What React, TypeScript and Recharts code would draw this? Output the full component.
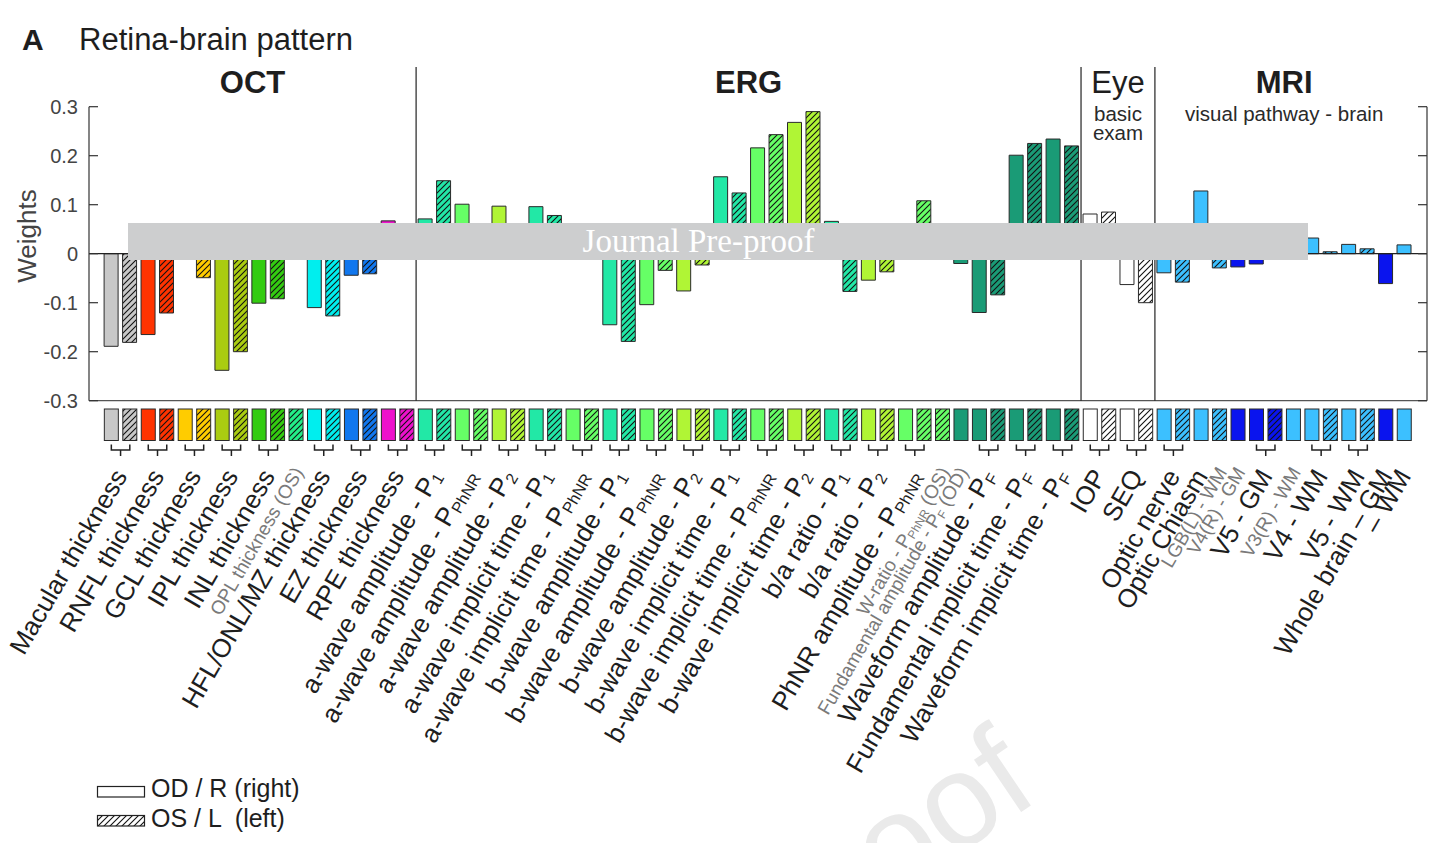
import React from 'react';
import { Bar, BarChart, Cell, ReferenceLine, XAxis, YAxis } from 'recharts';

// one entry per bar, left to right (OD / R first, OS / L second within a pair)
const categories = [
  'Macular OD', 'Macular OS', 'RNFL OD', 'RNFL OS', 'GCL OD', 'GCL OS', 'IPL OD', 'IPL OS',
  'INL OD', 'INL OS', 'OPL OS', 'HFL/ONL/MZ OD', 'HFL/ONL/MZ OS', 'EZ OD', 'EZ OS', 'RPE OD', 'RPE OS',
  'a amp P1 OD', 'a amp P1 OS', 'a amp PhNR OD', 'a amp PhNR OS', 'a amp P2 OD', 'a amp P2 OS',
  'a IT P1 OD', 'a IT P1 OS', 'a IT PhNR OD', 'a IT PhNR OS',
  'b amp P1 OD', 'b amp P1 OS', 'b amp PhNR OD', 'b amp PhNR OS', 'b amp P2 OD', 'b amp P2 OS',
  'b IT P1 OD', 'b IT P1 OS', 'b IT PhNR OD', 'b IT PhNR OS', 'b IT P2 OD', 'b IT P2 OS',
  'b/a P1 OD', 'b/a P1 OS', 'b/a P2 OD', 'b/a P2 OS', 'PhNR amp OD', 'PhNR amp OS',
  'W-ratio OS', 'Fund amp OD', 'Wave amp OD', 'Wave amp OS', 'Fund IT OD', 'Fund IT OS', 'Wave IT OD', 'Wave IT OS',
  'IOP OD', 'IOP OS', 'SEQ OD', 'SEQ OS',
  'Optic nerve R', 'Optic nerve L', 'Optic chiasm', 'LGB L WM', 'V4 R GM', 'V5 R GM', 'V5 L GM',
  'V3 R WM', 'V4 R WM', 'V4 L WM', 'V5 R WM', 'V5 L WM', 'Whole brain GM', 'Whole brain WM',
];

const weights = [
  -0.189, -0.181, -0.165, -0.121, 0.02, -0.049, -0.238, -0.2,
  -0.101, -0.092, 0.015, -0.11, -0.127, -0.044, -0.041, 0.067, 0.035,
  0.071, 0.149, 0.101, 0.04, 0.097, 0.05,
  0.096, 0.078, 0.03, 0.045,
  -0.145, -0.179, -0.104, -0.034, -0.076, -0.023,
  0.157, 0.124, 0.216, 0.243, 0.268, 0.29,
  0.066, -0.077, -0.054, -0.037, 0.02, 0.108,
  0.03, -0.02, -0.12, -0.084, 0.201, 0.225, 0.234, 0.22,
  0.081, 0.085, -0.063, -0.1,
  -0.039, -0.058, 0.128, -0.029, -0.027, -0.021, 0.01,
  0.005, 0.032, 0.004, 0.019, 0.01, -0.061, 0.018,
];

// R = right eye / right side (plain), L = left (hatched)
const sides = (
  'RLRLRLRLRLLRLRLRL' +
  'RLRLRLRLRLRLRLRLRLRLRLRLRLRLLRRLRLRL' +
  'RLRL' +
  'RLRLRRLRRLRLRR'
).split('');

const tones = [
  'gray', 'gray', 'red', 'red', 'yellow', 'yellow', 'olive', 'olive',
  'green', 'green', 'spring', 'cyan', 'cyan', 'azure', 'azure', 'magenta', 'magenta',
  'aqua', 'aqua', 'lime', 'lime', 'chartreuse', 'chartreuse',
  'aqua', 'aqua', 'lime', 'lime',
  'aqua', 'aqua', 'lime', 'lime', 'chartreuse', 'chartreuse',
  'aqua', 'aqua', 'lime', 'lime', 'chartreuse', 'chartreuse',
  'aqua', 'aqua', 'chartreuse', 'chartreuse', 'lime', 'lime',
  'lime', 'teal', 'teal', 'teal', 'teal', 'teal', 'teal', 'teal',
  'white', 'white', 'white', 'white',
  'sky', 'sky', 'sky', 'sky', 'blue', 'blue', 'blue',
  'sky', 'sky', 'sky', 'sky', 'sky', 'blue', 'sky',
];

const tickLabels = [
  { at: 'Macular OD', span: 2, text: 'Macular thickness' },
  { at: 'RNFL OD', span: 2, text: 'RNFL thickness' },
  { at: 'GCL OD', span: 2, text: 'GCL thickness' },
  { at: 'IPL OD', span: 2, text: 'IPL thickness' },
  { at: 'INL OD', span: 2, text: 'INL thickness' },
  { at: 'OPL OS', span: 1, text: 'OPL thickness (OS)', minor: true },
  { at: 'HFL/ONL/MZ OD', span: 2, text: 'HFL/ONL/MZ thickness' },
  { at: 'EZ OD', span: 2, text: 'EZ thickness' },
  { at: 'RPE OD', span: 2, text: 'RPE thickness' },
  { at: 'a amp P1 OD', span: 2, text: 'a-wave amplitude - P', sub: '1' },
  { at: 'a amp PhNR OD', span: 2, text: 'a-wave amplitude - P', sub: 'PhNR' },
  { at: 'a amp P2 OD', span: 2, text: 'a-wave amplitude - P', sub: '2' },
  { at: 'a IT P1 OD', span: 2, text: 'a-wave implicit time - P', sub: '1' },
  { at: 'a IT PhNR OD', span: 2, text: 'a-wave implicit time - P', sub: 'PhNR' },
  { at: 'b amp P1 OD', span: 2, text: 'b-wave amplitude - P', sub: '1' },
  { at: 'b amp PhNR OD', span: 2, text: 'b-wave amplitude - P', sub: 'PhNR' },
  { at: 'b amp P2 OD', span: 2, text: 'b-wave amplitude - P', sub: '2' },
  { at: 'b IT P1 OD', span: 2, text: 'b-wave implicit time - P', sub: '1' },
  { at: 'b IT PhNR OD', span: 2, text: 'b-wave implicit time - P', sub: 'PhNR' },
  { at: 'b IT P2 OD', span: 2, text: 'b-wave implicit time - P', sub: '2' },
  { at: 'b/a P1 OD', span: 2, text: 'b/a ratio - P', sub: '1' },
  { at: 'b/a P2 OD', span: 2, text: 'b/a ratio - P', sub: '2' },
  { at: 'PhNR amp OD', span: 2, text: 'PhNR amplitude - P', sub: 'PhNR' },
  { at: 'W-ratio OS', span: 1, text: 'W-ratio - P', sub: 'PhNR', tail: ' (OS)', minor: true },
  { at: 'Fund amp OD', span: 1, text: 'Fundamental amplitude - P', sub: 'F', tail: ' (OD)', minor: true },
  { at: 'Wave amp OD', span: 2, text: 'Waveform amplitude - P', sub: 'F' },
  { at: 'Fund IT OD', span: 2, text: 'Fundamental implicit time - P', sub: 'F' },
  { at: 'Wave IT OD', span: 2, text: 'Waveform implicit time - P', sub: 'F' },
  { at: 'IOP OD', span: 2, text: 'IOP' },
  { at: 'SEQ OD', span: 2, text: 'SEQ' },
  { at: 'Optic nerve R', span: 2, text: 'Optic nerve' },
  { at: 'Optic chiasm', span: 1, text: 'Optic Chiasm' },
  { at: 'LGB L WM', span: 1, text: 'LGB(L) - WM', minor: true },
  { at: 'V4 R GM', span: 1, text: 'V4(R) - GM', minor: true },
  { at: 'V5 R GM', span: 2, text: 'V5 - GM' },
  { at: 'V3 R WM', span: 1, text: 'V3(R) - WM', minor: true },
  { at: 'V4 R WM', span: 2, text: 'V4 - WM' },
  { at: 'V5 R WM', span: 2, text: 'V5 - WM' },
  { at: 'Whole brain GM', span: 1, text: 'Whole brain – GM' },
  { at: 'Whole brain WM', span: 1, text: '– WM' },
];

const sections = [
  { from: 'Macular OD', count: 17, title: 'OCT', bold: true, lines: [] as string[] },
  { from: 'a amp P1 OD', count: 36, title: 'ERG', bold: true, lines: [] as string[] },
  { from: 'IOP OD', count: 4, title: 'Eye', bold: false, lines: ['basic', 'exam'] },
  { from: 'Optic nerve R', count: 14, title: 'MRI', bold: true, lines: ['visual pathway - brain'] },
];

const weightTicks = [-0.3, -0.2, -0.1, 0, 0.1, 0.2, 0.3];

const palette: Record<string, string> = {
  gray: '#C8C8C8', red: '#FF3300', yellow: '#FFCC00', olive: '#AACC11', green: '#33CC11',
  spring: '#22EE88', cyan: '#00EEEE', azure: '#1177EE', magenta: '#EE11CC',
  aqua: '#22E8A6', lime: '#66FF66', chartreuse: '#B0F535', teal: '#1A9B76',
  white: '#FFFFFF', sky: '#3CC0FF', blue: '#0A14EE',
};

const FONT = '"Liberation Sans", Arial, Helvetica, sans-serif';
const PLOT_LEFT = 89;
const PLOT_RIGHT = 1427;
const PLOT_TOP = 106.7;
const PLOT_BOTTOM = 400.7;
const PAD_L = 13.1;
const PAD_R = 13.5;
const STEP = (PLOT_RIGHT - PLOT_LEFT - PAD_L - PAD_R) / categories.length;

const rows = categories.map((id, i) => ({ id, weight: weights[i] }));

const fillFor = (i: number) =>
  sides[i] === 'L' ? `url(#hatch-${tones[i]})` : palette[tones[i]];

function RotLabel({ x, y, label }: { x: number; y: number; label: any }) {
  const fs = label.minor ? 19 : 26;
  return (
    <text
      x={x}
      y={y}
      transform={`rotate(-60 ${x} ${y})`}
      textAnchor="end"
      fontSize={fs}
      fill={label.minor ? '#7a7a7a' : '#1e1e1e'}
      fontFamily={FONT}
      style={{ whiteSpace: 'pre' }}
    >
      {label.text}
      {label.sub && (
        <tspan fontSize={fs * 0.62} dy={fs * 0.12}>
          {label.sub}
        </tspan>
      )}
      {label.tail && <tspan dy={-fs * 0.12}>{label.tail}</tspan>}
    </text>
  );
}

function SlotTick(props: any) {
  const { x, payload } = props;
  const i = categories.indexOf(payload.value);
  if (i < 0) return <g />;
  const group = tickLabels.find((g) => g.at === payload.value);
  const sIdx = sections.findIndex((s) => s.from === payload.value);
  const section = sIdx >= 0 ? sections[sIdx] : null;

  let head = null;
  if (section) {
    const left = sIdx === 0 ? PLOT_LEFT : x - STEP / 2;
    const right = x + (section.count - 0.5) * STEP;
    const cx = (left + right) / 2;
    head = (
      <g fontFamily={FONT} textAnchor="middle">
        {sIdx > 0 && (
          <line x1={left} x2={left} y1={67} y2={PLOT_BOTTOM} stroke="#222" strokeWidth={1.2} />
        )}
        <text x={cx} y={93} fontSize={31} fontWeight={section.bold ? 700 : 400} fill="#1e1e1e">
          {section.title}
        </text>
        {section.lines.map((t, k) => (
          <text key={t} x={cx} y={121 + k * 19} fontSize={20.5} fill="#2a2a2a">
            {t}
          </text>
        ))}
      </g>
    );
  }

  let label = null;
  if (group) {
    const gx = x + ((group.span - 1) * STEP) / 2;
    label = (
      <g>
        {group.span === 2 && (
          <path
            d={`M${x},444.5 V450 H${x + STEP} V444.5 M${gx},450 V456`}
            fill="none"
            stroke="#222"
            strokeWidth={1.5}
          />
        )}
        <RotLabel x={group.minor ? gx + 8 : gx + 7.5} y={group.minor ? 472 : 476} label={group} />
      </g>
    );
  }

  return (
    <g>
      {head}
      <rect x={x - 7} y={409} width={14} height={31.5} fill={fillFor(i)} stroke="#2a2a2a" strokeWidth={1} />
      {label}
    </g>
  );
}

function WeightTick(props: any) {
  const { y, payload } = props;
  return (
    <g>
      <text x={78} y={y} dy="0.35em" textAnchor="end" fontSize={20} fill="#444" fontFamily={FONT}>
        {String(payload.value)}
      </text>
      <line x1={PLOT_LEFT} x2={PLOT_LEFT + 9} y1={y} y2={y} stroke="#333" strokeWidth={1.2} />
      <line x1={PLOT_RIGHT - 9} x2={PLOT_RIGHT} y1={y} y2={y} stroke="#333" strokeWidth={1.2} />
    </g>
  );
}

function Patterns() {
  return (
    <defs>
      {Object.keys(palette).map((tone) => (
        <pattern key={tone} id={`hatch-${tone}`} patternUnits="userSpaceOnUse" width={6} height={6}>
          <rect width={6} height={6} fill={palette[tone]} />
          <path d="M0,6 L6,0 M-1.5,1.5 L1.5,-1.5 M4.5,7.5 L7.5,4.5" stroke="#111" strokeWidth={1.1} />
        </pattern>
      ))}
    </defs>
  );
}

export default function App() {
  return (
    <div
      style={{
        position: 'absolute',
        left: 0,
        top: 0,
        width: 1434,
        height: 843,
        background: '#fff',
        overflow: 'hidden',
        fontFamily: FONT,
      }}
    >
      <svg width={1434} height={843} style={{ position: 'absolute', left: 0, top: 0 }}>
        <Patterns />
        <text
          x={1042}
          y={798}
          transform="rotate(-34 1042 798)"
          textAnchor="end"
          fontSize={132}
          fill="#EAEAEA"
          fontFamily={FONT}
        >
          Pre-proof
        </text>
        <text x={22} y={50} fontSize={30} fontWeight={700} fill="#1e1e1e" fontFamily={FONT}>
          A
        </text>
        <text x={79} y={50} fontSize={31} fill="#1e1e1e" fontFamily={FONT}>
          Retina-brain pattern
        </text>
        <text
          x={36}
          y={236}
          transform="rotate(-90 36 236)"
          textAnchor="middle"
          fontSize={26}
          fill="#444"
          fontFamily={FONT}
        >
          Weights
        </text>
        <g fontFamily={FONT} fontSize={25} fill="#1e1e1e">
          <rect x={97.5} y={786.5} width={47} height={10.5} fill="#fff" stroke="#222" strokeWidth={1.2} />
          <text x={151} y={797}>OD / R (right)</text>
          <rect x={97.5} y={815.5} width={47} height={10.5} fill="url(#hatch-white)" stroke="#222" strokeWidth={1.2} />
          <text x={151} y={827} style={{ whiteSpace: 'pre' }}>OS / L  (left)</text>
        </g>
      </svg>

      <div style={{ position: 'absolute', left: 0, top: 0 }}>
        <BarChart
          width={1434}
          height={843}
          data={rows}
          margin={{ top: PLOT_TOP, right: 0, bottom: 0, left: 0 }}
        >
          <XAxis
            dataKey="id"
            interval={0}
            height={843 - PLOT_BOTTOM}
            padding={{ left: PAD_L, right: PAD_R }}
            tickLine={false}
            axisLine={{ stroke: '#555', strokeWidth: 1.2 }}
            tick={(p: any) => <SlotTick {...p} />}
          />
          <YAxis
            width={PLOT_LEFT}
            domain={[-0.3, 0.3]}
            ticks={weightTicks}
            tickLine={false}
            axisLine={{ stroke: '#333', strokeWidth: 1.2 }}
            tick={(p: any) => <WeightTick {...p} />}
          />
          <YAxis
            yAxisId="right"
            orientation="right"
            width={1434 - PLOT_RIGHT}
            domain={[-0.3, 0.3]}
            ticks={weightTicks}
            tick={false}
            tickLine={false}
            axisLine={{ stroke: '#333', strokeWidth: 1.2 }}
          />
          <ReferenceLine y={0} stroke="#222" strokeWidth={1.2} />
          <Bar dataKey="weight" barSize={14} isAnimationActive={false}>
            {rows.map((r, i) => (
              <Cell key={r.id} fill={fillFor(i)} stroke="#2a2a2a" strokeWidth={1} />
            ))}
          </Bar>
        </BarChart>
      </div>

      <div
        style={{
          position: 'absolute',
          left: 128,
          top: 223,
          width: 1180,
          height: 37,
          background: '#CDCECF',
        }}
      >
        <div
          style={{
            position: 'absolute',
            left: 0,
            width: 1141,
            top: 2,
            textAlign: 'center',
            fontFamily: '"Liberation Serif", "Times New Roman", serif',
            fontSize: 33,
            lineHeight: '33px',
            color: '#fff',
          }}
        >
          Journal Pre-proof
        </div>
      </div>
    </div>
  );
}
